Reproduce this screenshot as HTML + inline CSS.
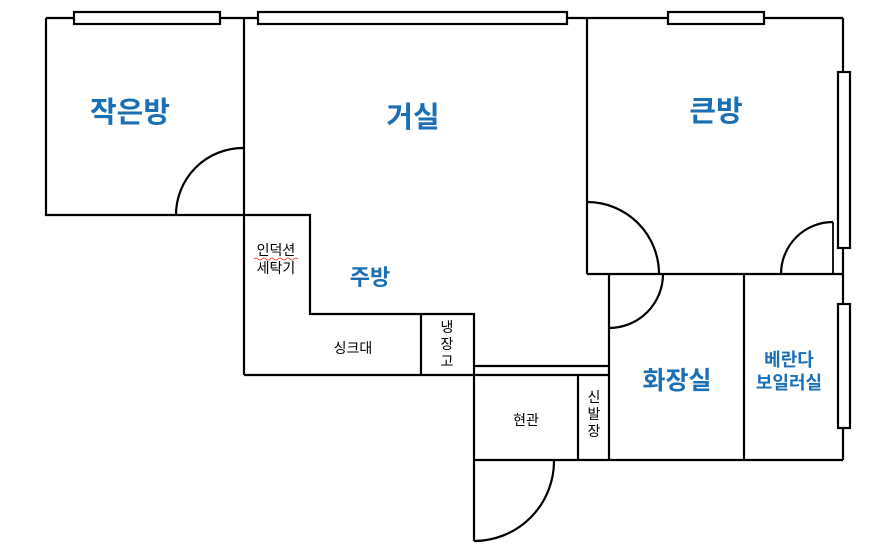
<!DOCTYPE html>
<html><head><meta charset="utf-8"><style>
html,body{margin:0;padding:0;background:#fff;}
svg{display:block;}
.b{fill:#1a6fb5;font-weight:bold;font-family:"Liberation Sans","Noto Sans CJK KR",sans-serif;}
.k{fill:#000;font-family:"Liberation Sans","Noto Sans CJK KR",sans-serif;font-size:14px;}
</style></head><body>
<svg width="887" height="545" viewBox="0 0 887 545" xmlns="http://www.w3.org/2000/svg">
<g fill="none" stroke="#000" stroke-width="2.2">
<line x1="46" y1="18" x2="843" y2="18"/>
<rect x="74" y="12" width="146" height="12" fill="#fff"/>
<rect x="258" y="12" width="309" height="12" fill="#fff"/>
<rect x="668" y="12" width="96" height="12" fill="#fff"/>
<polyline points="46,18 46,215 244,215"/>
<line x1="244" y1="18" x2="244" y2="375"/>
<path d="M176,215 A67,67 0 0 1 243,148"/>
<polyline points="244,215 310,215 310,314 474,314 474,375"/>
<line x1="244" y1="375" x2="474" y2="375"/>
<line x1="421" y1="314" x2="421" y2="375"/>
<line x1="474" y1="366" x2="609" y2="366"/>
<line x1="474" y1="375" x2="609" y2="375"/>
<line x1="474" y1="375" x2="474" y2="541"/>
<line x1="578" y1="375" x2="578" y2="460"/>
<line x1="474" y1="460" x2="843" y2="460"/>
<path d="M474,541 A80,80 0 0 0 554,460"/>
<line x1="587" y1="18" x2="587" y2="274"/>
<line x1="587" y1="274" x2="843" y2="274"/>
<path d="M587,202 A72,72 0 0 1 659,274"/>
<line x1="833" y1="222" x2="833" y2="274" stroke-width="1.8"/>
<path d="M833,222 A52,52 0 0 0 781,274"/>
<line x1="843" y1="18" x2="843" y2="460"/>
<rect x="838" y="72" width="12" height="176" fill="#fff"/>
<rect x="838" y="304" width="12" height="124" fill="#fff"/>
<line x1="609" y1="274" x2="609" y2="460"/>
<path d="M663,274 A54,54 0 0 1 609,328"/>
<line x1="744" y1="274" x2="744" y2="460"/>
</g>
<text class="b" x="130" y="122" font-size="29" text-anchor="middle">작은방</text>
<text class="b" x="413" y="127" font-size="29" text-anchor="middle">거실</text>
<text class="b" x="716" y="121" font-size="29" text-anchor="middle">큰방</text>
<text class="b" x="370" y="285" font-size="22" text-anchor="middle">주방</text>
<text class="b" x="677" y="389" font-size="25" text-anchor="middle">화장실</text>
<text class="b" x="789" y="366" font-size="18" text-anchor="middle">베란다</text>
<text class="b" x="789" y="389" font-size="18" text-anchor="middle">보일러실</text>
<text class="k" x="276" y="255" text-anchor="middle">인덕션</text>
<path d="M254,259 q2,-2 4,0 t4,0 t4,0 t4,0 t4,0 t4,0 t4,0 t4,0 t4,0 t4,0 t4,0" fill="none" stroke="#d22" stroke-width="0.8"/>
<text class="k" x="276" y="273" text-anchor="middle">세탁기</text>
<text class="k" x="353" y="353" text-anchor="middle">싱크대</text>
<text class="k" x="447" y="332" text-anchor="middle">냉</text>
<text class="k" x="447" y="349" text-anchor="middle">장</text>
<text class="k" x="447" y="366" text-anchor="middle">고</text>
<text class="k" x="526" y="425" text-anchor="middle">현관</text>
<text class="k" x="594" y="402" text-anchor="middle">신</text>
<text class="k" x="594" y="419" text-anchor="middle">발</text>
<text class="k" x="594" y="436" text-anchor="middle">장</text>
</svg>
</body></html>
